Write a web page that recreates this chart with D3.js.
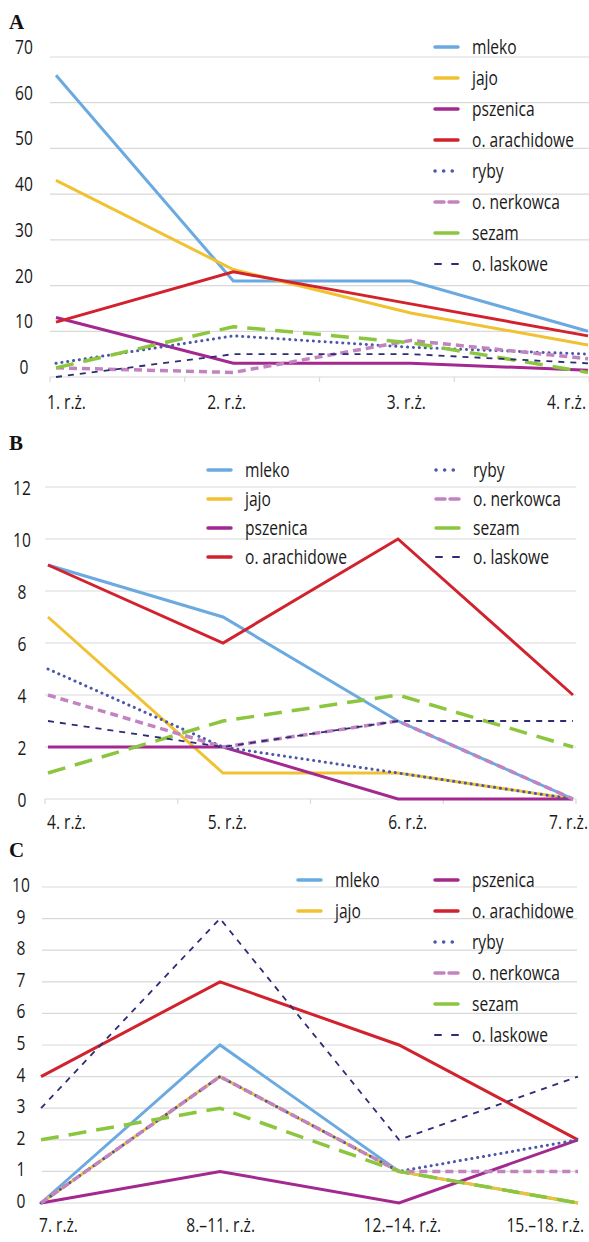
<!DOCTYPE html>
<html>
<head>
<meta charset="utf-8">
<script src="https://cdn.jsdelivr.net/npm/d3@7"></script>
<style>
  html, body { margin: 0; padding: 0; background: #fff; }
  svg { display: block; }
  .lbl { font-family: "Open Sans", "Noto Sans", sans-serif; font-size: 20px; fill: #1a1a1a; }
  .panel-letter { font-family: "Liberation Serif", "DejaVu Serif", serif; font-weight: bold; font-size: 21px; fill: #111; }
</style>
</head>
<body>
<svg id="chart" width="589" height="1242"></svg>
<script>
// series (same order in every panel)
const seriesNames = ['mleko', 'jajo', 'pszenica', 'o. arachidowe', 'ryby', 'o. nerkowca', 'sezam', 'o. laskowe'];

// panel A
const categoriesA = ['1. r.ż.', '2. r.ż.', '3. r.ż.', '4. r.ż.'];
const ticksA = [0, 10, 20, 30, 40, 50, 60, 70];
const valuesA = [
  [66, 21, 21, 10],
  [43, 23.5, 14, 7],
  [13, 3, 3, 1.5],
  [12, 23, 16, 9],
  [3, 9, 6.5, 5],
  [2, 1, 8, 4],
  [2, 11, 7.5, 1],
  [0, 5, 5, 3]
];

// panel B
const categoriesB = ['4. r.ż.', '5. r.ż.', '6. r.ż.', '7. r.ż.'];
const ticksB = [0, 2, 4, 6, 8, 10, 12];
const valuesB = [
  [9, 7, 3, 0],
  [7, 1, 1, 0],
  [2, 2, 0, 0],
  [9, 6, 10, 4],
  [5, 2, 1, 0],
  [4, 2, 3, 0],
  [1, 3, 4, 2],
  [3, 2, 3, 3]
];

// panel C
const categoriesC = ['7. r.ż.', '8.–11. r.ż.', '12.–14. r.ż.', '15.–18. r.ż.'];
const ticksC = [0, 1, 2, 3, 4, 5, 6, 7, 8, 9, 10];
const valuesC = [
  [0, 5, 1, 0],
  [0, 4, 1, 0],
  [0, 1, 0, 2],
  [4, 7, 5, 2],
  [0, 4, 1, 2],
  [0, 4, 1, 1],
  [2, 3, 1, 0],
  [3, 9, 2, 4]
];

// line styles per series
const styles = [
  { color: '#6aaae0', width: 3, dash: null, legendDash: null },
  { color: '#f0c232', width: 3, dash: null, legendDash: null },
  { color: '#a3288f', width: 3, dash: null, legendDash: null },
  { color: '#d1222d', width: 3, dash: null, legendDash: null },
  { color: '#4b57a8', width: 3, dash: '0.1 5.8', legendDash: '0.1 8.5', cap: 'round' },
  { color: '#c184c0', width: 3.5, dash: '8 5', legendDash: '9 5' },
  { color: '#8cc63f', width: 3.5, dash: '18 10', legendDash: null },
  { color: '#2d2c74', width: 1.8, dash: '6 6', legendDash: '6 11' }
];

// condensed look: squeeze the humanist sans horizontally
const SQUEEZE = 0.78;
function place(sel, fx, fy) {
  return sel.attr('transform', (d, i) => `translate(${fx(d, i)},${fy(d, i)}) scale(${SQUEEZE},1)`);
}

const svg = d3.select('#chart');
svg.append('rect').attr('width', 589).attr('height', 1242).attr('fill', '#fff');

function drawPanel(cfg) {
  const g = svg.append('g');

  // panel letter
  g.append('text')
    .attr('class', 'panel-letter')
    .attr('x', cfg.letterX)
    .attr('y', cfg.letterY)
    .attr('dy', '0.35em')
    .text(cfg.letter);

  const x = d3.scalePoint().domain(cfg.categories).range(cfg.xRange);
  const y = d3.scaleLinear().domain([0, d3.max(cfg.ticks)]).range(cfg.yRange);

  // grid lines
  g.append('g')
    .selectAll('line')
    .data(cfg.ticks)
    .join('line')
    .attr('x1', cfg.gridX[0])
    .attr('x2', cfg.gridX[1])
    .attr('y1', d => y(d))
    .attr('y2', d => y(d))
    .attr('stroke', '#d9d9d9')
    .attr('stroke-width', 1.2);

  // y tick labels
  g.append('g')
    .selectAll('text')
    .data(cfg.ticks)
    .join('text')
    .attr('class', 'lbl')
    .attr('dy', '0.35em')
    .attr('text-anchor', 'middle')
    .call(place, () => cfg.yLabelX, d => y(d) + cfg.yLabelDy)
    .text(d => d);

  // category tick marks on the baseline
  if (cfg.tickMarks) {
    const band = d3.scaleBand().domain(cfg.categories).range(cfg.gridX);
    const edges = cfg.categories.map(c => band(c)).concat([cfg.gridX[1]]);
    g.append('g')
      .selectAll('line')
      .data(edges)
      .join('line')
      .attr('x1', d => d)
      .attr('x2', d => d)
      .attr('y1', y(0))
      .attr('y2', y(0) + 5)
      .attr('stroke', '#d9d9d9')
      .attr('stroke-width', 1.2);
  }

  // category labels
  const xl = d3.scalePoint().domain(cfg.categories).range(cfg.catLabelRange);
  const n = cfg.categories.length;
  g.append('g')
    .selectAll('text')
    .data(cfg.categories)
    .join('text')
    .attr('class', 'lbl')
    .attr('dy', '0.35em')
    .attr('text-anchor', (d, i) => i === 0 ? 'start' : (i === n - 1 ? 'end' : 'middle'))
    .call(place, d => xl(d), () => cfg.catLabelY)
    .text(d => d);

  // lines
  const line = d3.line()
    .x((d, i) => x(cfg.categories[i]))
    .y(d => y(d));

  g.append('g')
    .selectAll('path')
    .data(cfg.values)
    .join('path')
    .attr('d', d => line(d))
    .attr('fill', 'none')
    .attr('stroke', (d, i) => styles[i].color)
    .attr('stroke-width', (d, i) => styles[i].width)
    .attr('stroke-dasharray', (d, i) => styles[i].dash)
    .attr('stroke-linecap', (d, i) => styles[i].cap || 'butt')
    .attr('stroke-linejoin', 'miter');

  // legend
  const lg = g.append('g');
  seriesNames.forEach((name, i) => {
    const pos = cfg.legendPos(i);
    const st = styles[i];
    lg.append('line')
      .attr('x1', pos.x)
      .attr('x2', pos.x + 23)
      .attr('y1', pos.y)
      .attr('y2', pos.y)
      .attr('stroke', st.color)
      .attr('stroke-width', st.width === 1.8 ? 2 : 3.5)
      .attr('stroke-dasharray', st.legendDash)
      .attr('stroke-linecap', st.cap || 'round');
    lg.append('text')
      .attr('class', 'lbl')
      .attr('dy', '0.35em')
      .call(place, () => pos.x + 37, () => pos.y)
      .text(name);
  });
}

drawPanel({
  letter: 'A', letterX: 9, letterY: 22,
  categories: categoriesA, ticks: ticksA, values: valuesA,
  xRange: [56, 588], yRange: [377, 57], gridX: [50, 589],
  yLabelX: 24, yLabelDy: -10,
  tickMarks: true,
  catLabelRange: [47, 586], catLabelY: 402,
  legendPos: i => ({ x: 435, y: 47 + i * 31 })
});

drawPanel({
  letter: 'B', letterX: 9, letterY: 443,
  categories: categoriesB, ticks: ticksB, values: valuesB,
  xRange: [48, 573], yRange: [799, 487], gridX: [45, 576],
  yLabelX: 22, yLabelDy: 1,
  tickMarks: true,
  catLabelRange: [47, 588], catLabelY: 822,
  legendPos: i => i < 4 ? { x: 208, y: 470 + i * 29 } : { x: 436, y: 470 + (i - 4) * 29 }
});

drawPanel({
  letter: 'C', letterX: 9, letterY: 850,
  categories: categoriesC, ticks: ticksC, values: valuesC,
  xRange: [41, 578], yRange: [1203, 887], gridX: [42, 577],
  yLabelX: 21, yLabelDy: -2,
  tickMarks: false,
  catLabelRange: [39, 584], catLabelY: 1225,
  legendPos: i => i < 2 ? { x: 298, y: 880 + i * 31 } : { x: 435, y: 880 + (i - 2) * 31 }
});
</script>
</body>
</html>
